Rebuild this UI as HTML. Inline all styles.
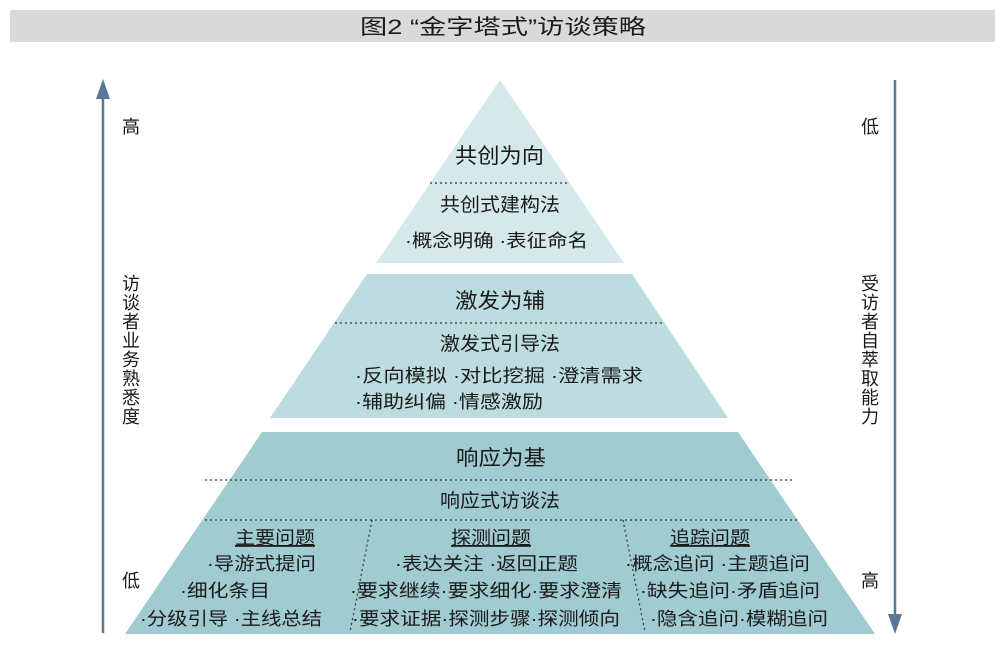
<!DOCTYPE html>
<html><head><meta charset="utf-8"><style>
body{margin:0;background:#fff;}
svg text{font-family:"Liberation Sans","Noto Sans CJK SC",sans-serif;fill:#1a1a1a;}
</style></head><body>
<svg width="1000" height="645" viewBox="0 0 1000 645" xmlns="http://www.w3.org/2000/svg">
<rect x="10" y="10" width="985" height="32" fill="#d9d9d9"/>
<text x="360" y="34" font-size="21" textLength="286" lengthAdjust="spacingAndGlyphs">图2 “金字塔式”访谈策略</text>

<polygon points="500,80 624,263 376,263" fill="#d5e9ea"/>
<polygon points="367,274 632,274 728,418 270,418" fill="#bcdcdf"/>
<polygon points="262,432 738,432 875,634 125,634" fill="#9fcbd1"/>

<g stroke="#333" stroke-width="1.2" stroke-dasharray="2,3" fill="none">
<line x1="430" y1="183" x2="570" y2="183"/>
<line x1="335" y1="323" x2="663" y2="323"/>
<line x1="205" y1="480" x2="795" y2="480"/>
<line x1="205" y1="520" x2="797" y2="520"/>
<line x1="372" y1="520" x2="350" y2="632"/>
<line x1="623" y1="520" x2="645" y2="632"/>
</g>

<g lengthAdjust="spacingAndGlyphs">
<text x="455" y="163" font-size="21" textLength="89" lengthAdjust="spacingAndGlyphs">共创为向</text>
<text x="440" y="211" font-size="19" textLength="120" lengthAdjust="spacingAndGlyphs">共创式建构法</text>
<text x="405" y="247" font-size="18" textLength="183" lengthAdjust="spacingAndGlyphs">·概念明确 ·表征命名</text>
<text x="455" y="308" font-size="21" textLength="90" lengthAdjust="spacingAndGlyphs">激发为辅</text>
<text x="440" y="350" font-size="19" textLength="120" lengthAdjust="spacingAndGlyphs">激发式引导法</text>
<text x="355" y="382" font-size="18" textLength="288" lengthAdjust="spacingAndGlyphs">·反向模拟  ·对比挖掘  ·澄清需求</text>
<text x="355" y="408" font-size="18" textLength="188" lengthAdjust="spacingAndGlyphs">·辅助纠偏  ·情感激励</text>
<text x="456" y="465" font-size="21" textLength="90" lengthAdjust="spacingAndGlyphs">响应为基</text>
<text x="440" y="507" font-size="19" textLength="120" lengthAdjust="spacingAndGlyphs">响应式访谈法</text>

<text x="235" y="544" font-size="18" textLength="80" lengthAdjust="spacingAndGlyphs" text-decoration="underline">主要问题</text>
<text x="207" y="570" font-size="18" textLength="109" lengthAdjust="spacingAndGlyphs">·导游式提问</text>
<text x="180" y="597" font-size="18" textLength="90" lengthAdjust="spacingAndGlyphs">·细化条目</text>
<text x="140" y="625" font-size="18" textLength="182" lengthAdjust="spacingAndGlyphs">·分级引导 ·主线总结</text>

<text x="451" y="544" font-size="18" textLength="80" lengthAdjust="spacingAndGlyphs" text-decoration="underline">探测问题</text>
<text x="395" y="570" font-size="18" textLength="183" lengthAdjust="spacingAndGlyphs">·表达关注 ·返回正题</text>
<text x="350" y="597" font-size="18" textLength="272" lengthAdjust="spacingAndGlyphs">·要求继续·要求细化·要求澄清</text>
<text x="352" y="625" font-size="18" textLength="268" lengthAdjust="spacingAndGlyphs">·要求证据·探测步骤·探测倾向</text>

<text x="670" y="544" font-size="18" textLength="80" lengthAdjust="spacingAndGlyphs" text-decoration="underline">追踪问题</text>
<text x="625" y="570" font-size="18" textLength="185" lengthAdjust="spacingAndGlyphs">·概念追问 ·主题追问</text>
<text x="640" y="597" font-size="18" textLength="180" lengthAdjust="spacingAndGlyphs">·缺失追问·矛盾追问</text>
<text x="650" y="625" font-size="18" textLength="178" lengthAdjust="spacingAndGlyphs">·隐含追问·模糊追问</text>
</g>

<line x1="103" y1="95" x2="103" y2="633" stroke="#5a7896" stroke-width="2.5"/>
<polygon points="103,79 96,99 110,99" fill="#5a7896"/>
<line x1="895" y1="80" x2="895" y2="618" stroke="#5a7896" stroke-width="2.5"/>
<polygon points="895,634 888,614 902,614" fill="#5a7896"/>

<g font-size="18" text-anchor="middle">
<text x="131" y="133">高</text>
<text x="131" y="587">低</text>
<text x="870" y="133">低</text>
<text x="870" y="587">高</text>
<text x="131" y="290">访</text><text x="131" y="309">谈</text><text x="131" y="328">者</text><text x="131" y="347">业</text><text x="131" y="366">务</text><text x="131" y="385">熟</text><text x="131" y="404">悉</text><text x="131" y="423">度</text>
<text x="870" y="290">受</text><text x="870" y="309">访</text><text x="870" y="328">者</text><text x="870" y="347">自</text><text x="870" y="366">萃</text><text x="870" y="385">取</text><text x="870" y="404">能</text><text x="870" y="423">力</text>
</g>
</svg>
</body></html>
